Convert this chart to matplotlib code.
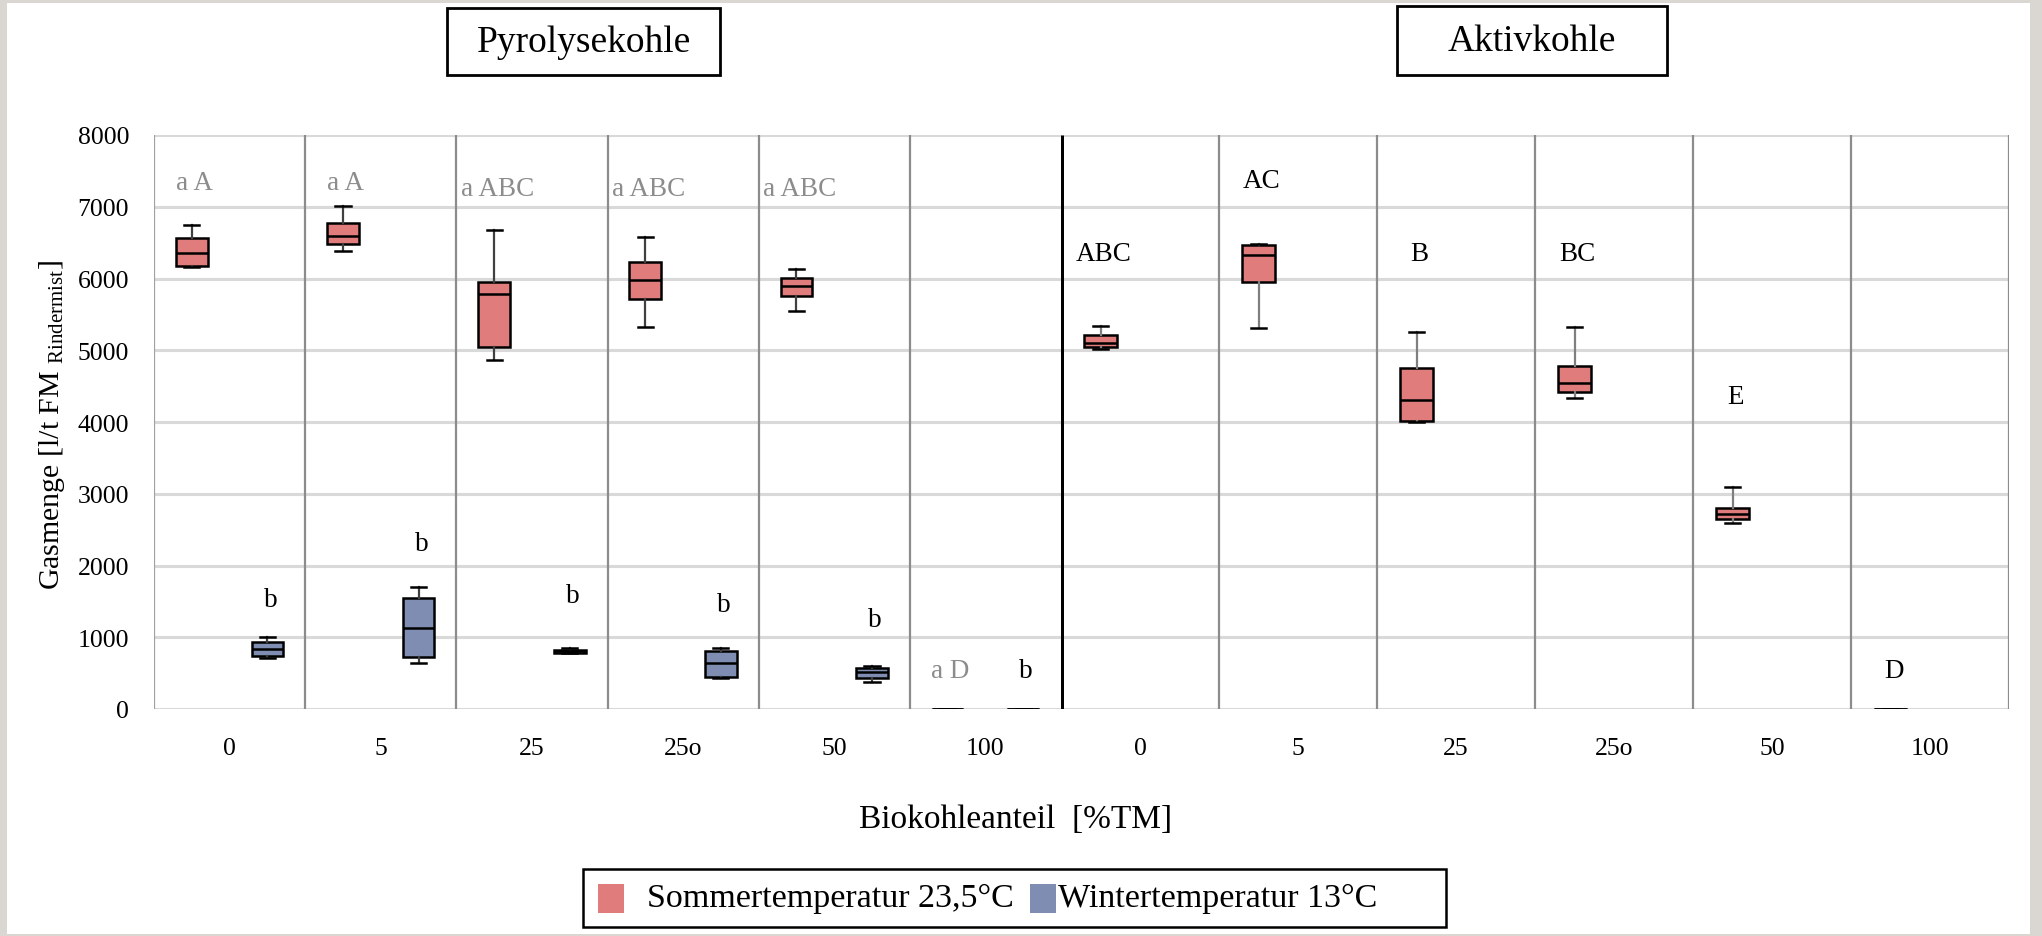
import matplotlib
matplotlib.use("Agg")
import matplotlib.pyplot as plt
from matplotlib.patches import Rectangle

# ---------------- data ----------------
categories = ["0", "5", "25", "25o", "50", "100"]

# Pyrolysekohle, Sommertemperatur 23,5 °C
pyro_summer_min = [6160, 6384, 4861, 5327, 5543, 0]
pyro_summer_q1 = [6180, 6481, 5043, 5714, 5759, 0]
pyro_summer_med = [6350, 6595, 5787, 5986, 5895, 0]
pyro_summer_q3 = [6566, 6777, 5958, 6225, 6009, 0]
pyro_summer_max = [6748, 7004, 6680, 6583, 6128, 0]

# Pyrolysekohle, Wintertemperatur 13 °C
pyro_winter_min = [711, 642, 779, 438, 381, 0]
pyro_winter_q1 = [739, 722, 785, 449, 438, 0]
pyro_winter_med = [841, 1126, 807, 642, 512, 0]
pyro_winter_q3 = [938, 1552, 824, 807, 569, 0]
pyro_winter_max = [1006, 1700, 853, 853, 597, 0]

# Aktivkohle, Sommertemperatur 23,5 °C
aktiv_summer_min = [5020, 5304, 3997, 4332, 2586, 0]
aktiv_summer_q1 = [5048, 5958, 4008, 4417, 2643, 0]
aktiv_summer_med = [5105, 6322, 4304, 4548, 2717, 0]
aktiv_summer_q3 = [5219, 6470, 4747, 4787, 2797, 0]
aktiv_summer_max = [5344, 6481, 5259, 5327, 3098, 0]

# significance letters and their heights
pyro_summer_letters = ["a A", "a A", "a ABC", "a ABC", "a ABC", "a D"]
pyro_summer_letter_y = [7340, 7340, 7260, 7260, 7250, 530]
pyro_winter_letters = ["b", "b", "b", "b", "b", "b"]
pyro_winter_letter_y = [1520, 2310, 1580, 1460, 1250, 530]
aktiv_letters = ["ABC", "AC", "B", "BC", "E", "D"]
aktiv_letter_y = [6355, 7360, 6355, 6355, 4360, 530]

y_ticks = [0, 1000, 2000, 3000, 4000, 5000, 6000, 7000, 8000]
legend_labels = ["Sommertemperatur 23,5°C", "Wintertemperatur 13°C"]

# ---------------- styles ----------------
SUMMER = "#E07C7C"
WINTER = "#7E8DB1"
GRID = "#d9d9d9"
DIV = "#8c8c8c"

plt.rcParams['font.family'] = ['Liberation Serif', 'DejaVu Serif']
plt.rcParams['mathtext.fontset'] = 'custom'
plt.rcParams['mathtext.rm'] = 'Liberation Serif'
plt.rcParams['mathtext.it'] = 'Liberation Serif:italic'
plt.rcParams['mathtext.bf'] = 'Liberation Serif:bold'

W, H = 2042, 937
fig = plt.figure(figsize=(W / 100, H / 100), dpi=100)
fig.patch.set_facecolor('#dad7d3')


def fx(px):
    return px / W


def fy(py):
    return 1 - py / H


fig.add_artist(Rectangle((fx(7), fy(935)), (2030 - 7) / W, (935 - 4) / H,
                         transform=fig.transFigure, facecolor='white',
                         edgecolor='none', zorder=0))

ax1 = fig.add_axes([fx(154), fy(710), fx(1061) - fx(154), fy(136) - fy(710)])
ax2 = fig.add_axes([fx(1061), fy(710), fx(2009) - fx(1061), fy(136) - fy(710)],
                   sharey=ax1)


def stats(mn, q1, med, q3, mx):
    return [dict(whislo=a, q1=b, med=c, q3=d, whishi=e, fliers=[])
            for a, b, c, d, e in zip(mn, q1, med, q3, mx)]


def draw_boxes(ax, st, offset, color, whisk_color):
    ax.bxp(st, positions=[i + offset for i in range(len(st))], widths=0.21,
           patch_artist=True, showfliers=False, manage_ticks=False,
           capwidths=0.1,
           boxprops=dict(facecolor=color, edgecolor='black', linewidth=1.8),
           medianprops=dict(color='black', linewidth=1.8),
           whiskerprops=dict(color=whisk_color, linewidth=1.6),
           capprops=dict(color='black', linewidth=1.8),
           zorder=3)


for ax in (ax1, ax2):
    ax.set_xlim(0, 6)
    ax.set_ylim(0, 8000)
    for s in ax.spines.values():
        s.set_visible(False)
    for yv in y_ticks:
        ax.axhline(yv, color=GRID, lw=2.2, zorder=1)
    for i in range(1, 6):
        ax.axvline(i, color=DIV, lw=1.6, zorder=1)
    ax.set_xticks([i + 0.5 for i in range(len(categories))])
    ax.set_xticklabels(categories)
    ax.tick_params(axis='x', length=0, pad=20, labelsize=18.5)

ax1.axvline(0, color='#a0a0a0', lw=1.6, zorder=1)
ax2.axvline(6, color=DIV, lw=1.6, zorder=1)
ax2.axvline(0, color='black', lw=3.6, zorder=4, solid_capstyle='butt')

ax1.set_yticks(y_ticks)
ax1.tick_params(axis='y', length=0, pad=18, labelsize=18.5)
ax2.tick_params(axis='y', length=0, labelleft=False)

draw_boxes(ax1, stats(pyro_summer_min, pyro_summer_q1, pyro_summer_med,
                      pyro_summer_q3, pyro_summer_max), 0.25, SUMMER, '#404040')
draw_boxes(ax1, stats(pyro_winter_min, pyro_winter_q1, pyro_winter_med,
                      pyro_winter_q3, pyro_winter_max), 0.75, WINTER, '#404040')
draw_boxes(ax2, stats(aktiv_summer_min, aktiv_summer_q1, aktiv_summer_med,
                      aktiv_summer_q3, aktiv_summer_max), 0.25, SUMMER, '#7f7f7f')

for i, (s, y) in enumerate(zip(pyro_summer_letters, pyro_summer_letter_y)):
    ax1.text(i + 0.27, y, s, ha='center', va='center', fontsize=19.5, color='#8c8c8c', zorder=5)
for i, (s, y) in enumerate(zip(pyro_winter_letters, pyro_winter_letter_y)):
    ax1.text(i + 0.77, y, s, ha='center', va='center', fontsize=19.5, color='black', zorder=5)
for i, (s, y) in enumerate(zip(aktiv_letters, aktiv_letter_y)):
    ax2.text(i + 0.27, y, s, ha='center', va='center', fontsize=19.5, color='black', zorder=5)

# axis labels
fig.text(fx(52), fy(425), r'Gasmenge [l/t FM $_{\mathrm{Rindermist}}$]', rotation=90,
         ha='center', va='center', fontsize=21.5)
fig.text(fx(1016), fy(820), 'Biokohleanteil  [%TM]', ha='center', va='center', fontsize=24)

# title boxes
for (x0, x1, y0, y1, label) in [(447, 720, 9, 76, 'Pyrolysekohle'),
                                (1397, 1667, 7, 76, 'Aktivkohle')]:
    fig.add_artist(Rectangle((fx(x0), fy(y1)), (x1 - x0) / W, (y1 - y0) / H,
                             transform=fig.transFigure, facecolor='white',
                             edgecolor='black', lw=2, zorder=2))
    fig.text(fx((x0 + x1) / 2), fy((y0 + y1) / 2), label, ha='center', va='center',
             fontsize=27, zorder=3)

# legend (drawn manually to match the spacing of the original)
fig.add_artist(Rectangle((fx(583), fy(928)), (1446 - 583) / W, (928 - 870) / H,
                         transform=fig.transFigure, facecolor='white',
                         edgecolor='black', lw=1.8, zorder=2))
for (sx0, tx, color, label) in [(598, 647, SUMMER, legend_labels[0]),
                                (1030, 1058, WINTER, legend_labels[1])]:
    fig.add_artist(Rectangle((fx(sx0), fy(914)), 26 / W, 29 / H,
                             transform=fig.transFigure, facecolor=color,
                             edgecolor='none', zorder=3))
    fig.text(fx(tx), fy(899), label, ha='left', va='center', fontsize=24.5, zorder=3)

fig.savefig('out.png', dpi=100, facecolor=fig.get_facecolor())
